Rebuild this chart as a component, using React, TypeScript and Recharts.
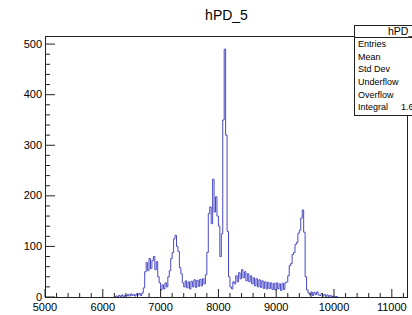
import { LineChart, Line, XAxis, YAxis } from "recharts"

// histogram "hPD_5": 25-wide bins starting at 6200
const TITLE = "hPD_5"
const BIN_START = 6200
const BIN_WIDTH = 25

const counts = [
  // 6200 - 6675, low tail
  0, 2, 0, 3, 1, 4, 1, 3, 2, 5, 2, 6, 3, 5, 2, 6, 4, 7, 3, 8,
  // 6700 - 6975, first bump
  18, 50, 68, 52, 76, 56, 72, 80, 54, 70, 40, 28,
  // 7000 - 7375, second bump
  14, 24, 16, 28, 20, 40, 52, 76, 88, 115, 122, 100, 90, 58, 46, 28,
  // 7400 - 7775, valley
  20, 32, 18, 30, 16, 31, 20, 34, 19, 33, 21, 35, 22, 36, 26, 44,
  // 7800 - 8200, double peak + main line
  88, 165, 178, 145, 233, 168, 198, 160, 140, 80, 125, 350, 490, 320, 130, 40, 20,
  // 8225 - 9175, shoulder
  16, 30, 26, 42, 30, 48, 36, 54, 38, 50, 32, 46, 30, 42, 26, 38, 22, 36, 20, 34,
  19, 32, 17, 30, 16, 29, 17, 28, 15, 27, 14, 28, 16, 26, 13, 27, 15, 28, 30,
  // 9200 - 9525, last peak
  42, 62, 66, 84, 88, 104, 108, 126, 132, 156, 172, 128, 40, 14,
  // 9550 - 10075, tail
  8, 4, 10, 3, 9, 5, 10, 4, 3, 7, 2, 5, 1, 4, 1, 3, 0, 2, 0, 1, 0, 0,
]

const xLabels = [5000, 6000, 7000, 8000, 9000, 10000, 11000]
const yLabels = [0, 100, 200, 300, 400, 500]
const statRows = ["Entries", "Mean", "Std Dev", "Underflow", "Overflow", "Integral"]
const integralText = "1.6"

const data = counts.map((c, i) => ({ x: BIN_START + i * BIN_WIDTH, y: c }))

const xTicks: number[] = []
for (let v = 5000; v <= 11200; v += 200) xTicks.push(v)
const yTicks: number[] = []
for (let v = 0; v <= 500; v += 20) yTicks.push(v)

const FONT = "'Liberation Sans', Arial, sans-serif"
const W = 412
const H = 315
const M = { top: 36, right: 4, left: 0, bottom: 0 }
const Y_AXIS_W = 45
const X_AXIS_H = 18

function XTick(props: any) {
  const { x, y, payload } = props
  const v = payload.value
  const major = xLabels.includes(v)
  return (
    <g>
      <line x1={x} x2={x} y1={y} y2={y - (major ? 8 : 4)} stroke="#222" strokeWidth={1} />
      {major && (
        <text x={x} y={y + 14} textAnchor="middle" fontSize={11} fontFamily={FONT} fill="#000">
          {v}
        </text>
      )}
    </g>
  )
}

function YTick(props: any) {
  const { x, y, payload } = props
  const v = payload.value
  const major = yLabels.includes(v)
  return (
    <g>
      <line x1={x} x2={x + (major ? 10 : 5)} y1={y} y2={y} stroke="#222" strokeWidth={1} />
      {major && (
        <text x={x - 3} y={y + 3.5} textAnchor="end" fontSize={11} fontFamily={FONT} fill="#000">
          {v}
        </text>
      )}
    </g>
  )
}

export default function App() {
  const plotLeft = M.left + Y_AXIS_W
  const plotTop = M.top
  const plotW = W - plotLeft - M.right
  const plotH = H - M.top - X_AXIS_H - M.bottom

  return (
    <div
      style={{
        position: "absolute",
        left: 0,
        top: 0,
        width: W,
        height: H,
        background: "#fff",
        overflow: "hidden",
        fontFamily: FONT,
      }}
    >
      <LineChart width={W} height={H} data={data} margin={M}>
        <XAxis
          dataKey="x"
          type="number"
          domain={[5000, 11280]}
          ticks={xTicks}
          interval={0}
          tickSize={0}
          tickMargin={0}
          axisLine={false}
          tickLine={false}
          height={X_AXIS_H}
          tick={<XTick />}
          allowDataOverflow
        />
        <YAxis
          type="number"
          domain={[0, 516]}
          ticks={yTicks}
          interval={0}
          tickSize={0}
          tickMargin={0}
          axisLine={false}
          tickLine={false}
          width={Y_AXIS_W}
          tick={<YTick />}
          allowDataOverflow
        />
        <Line
          type="stepAfter"
          dataKey="y"
          stroke="#4848c6"
          strokeWidth={1}
          dot={false}
          isAnimationActive={false}
        />
      </LineChart>

      {/* frame */}
      <div
        style={{
          position: "absolute",
          left: plotLeft,
          top: plotTop,
          width: plotW,
          height: plotH + 1,
          border: "1px solid #222",
          boxSizing: "border-box",
          pointerEvents: "none",
        }}
      />

      {/* title */}
      <div
        style={{
          position: "absolute",
          left: plotLeft,
          width: plotW,
          top: 7,
          textAlign: "center",
          fontSize: 14,
        }}
      >
        {TITLE}
      </div>

      {/* stat box */}
      <div
        style={{
          position: "absolute",
          left: 354,
          top: 25,
          width: 70,
          height: 91,
          border: "1px solid #222",
          background: "#fff",
          boxSizing: "border-box",
        }}
      >
        <div
          style={{
            height: 11,
            borderBottom: "1px solid #222",
            fontSize: 10.5,
            lineHeight: "11px",
            paddingLeft: 33,
          }}
        >
          {TITLE}
        </div>
        {statRows.map((r) => (
          <div
            key={r}
            style={{
              height: 12.7,
              lineHeight: "12.7px",
              fontSize: 9,
              paddingLeft: 3,
              position: "relative",
            }}
          >
            {r}
            {r === "Integral" && (
              <span style={{ position: "absolute", left: 46 }}>{integralText}</span>
            )}
          </div>
        ))}
      </div>
    </div>
  )
}
